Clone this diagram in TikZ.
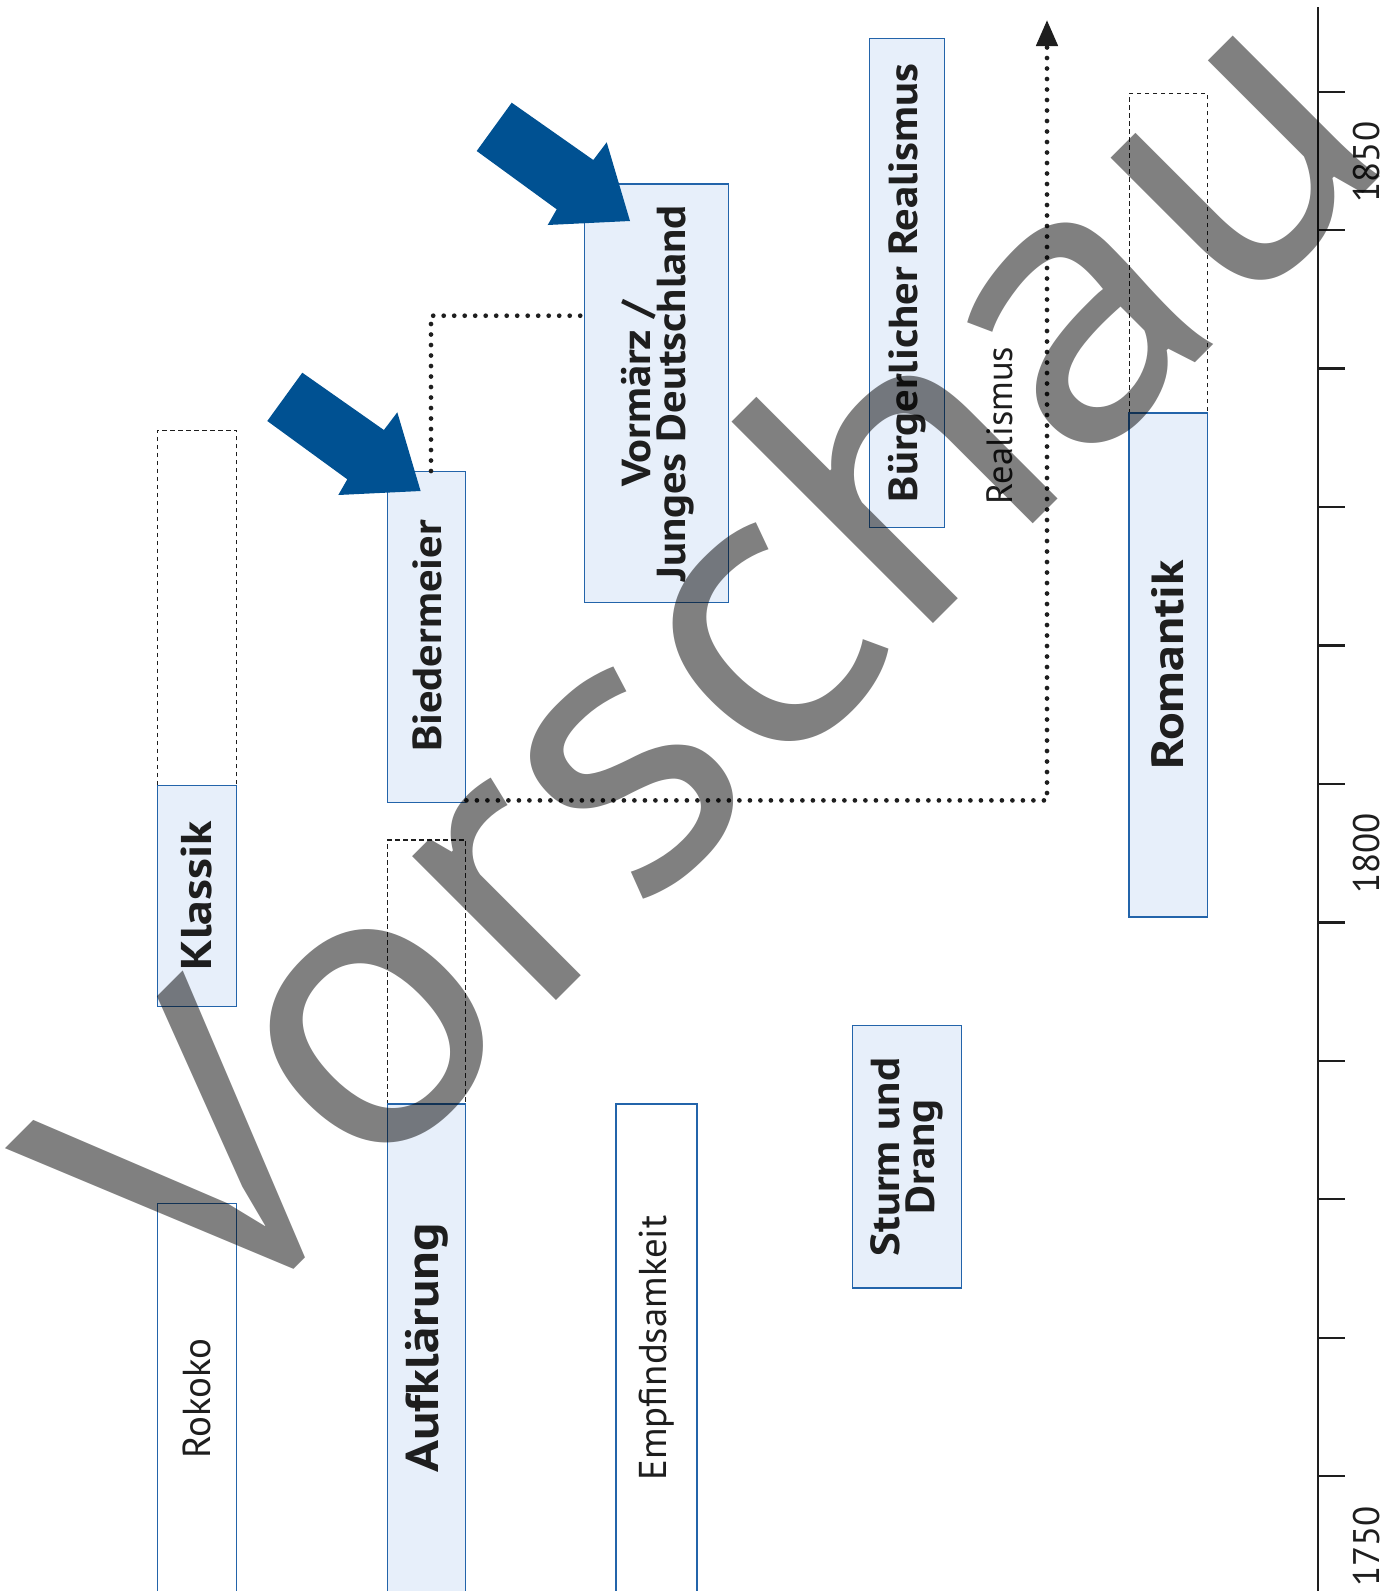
\documentclass[tikz,border=0pt]{standalone}
\usepackage{fontspec}
\setmainfont{PT Sans}
\newfontfamily\lblA[FakeStretch=1.1]{PT Sans}
\newfontfamily\lblB[FakeStretch=1.15]{PT Sans}
\newfontfamily\wmfont[FakeStretch=1.08]{PT Sans}
\usetikzlibrary{arrows.meta}
\definecolor{boxblue}{RGB}{35,100,170}
\definecolor{boxfill}{RGB}{231,239,250}
\definecolor{arrowblue}{RGB}{0,81,146}
\definecolor{wmgray}{RGB}{128,128,128}
\definecolor{ink}{RGB}{30,30,30}
\begin{document}
\begin{tikzpicture}[x=1pt,y=-1pt,
  box/.style={draw=boxblue, line width=1.4pt, fill=boxfill, rectangle, inner sep=0pt},
  wbox/.style={draw=boxblue, line width=1.4pt, fill=white, rectangle, inner sep=0pt},
  dbox/.style={draw=ink, line width=1.1pt, dash pattern=on 4.5pt off 3.5pt, rectangle, inner sep=0pt},
  boldlbl/.style={rotate=90, font=\lblA\fontsize{40.5}{35}\selectfont\bfseries, text=ink, align=center, inner sep=0pt},
  biglbl/.style={rotate=90, font=\lblB\fontsize{#1}{36}\selectfont\bfseries, text=ink, inner sep=0pt},
  reglbl/.style={rotate=90, font=\fontsize{#1}{36}\selectfont, text=ink, inner sep=0pt},
  dots/.style={draw=ink, line width=4.7pt, line cap=round, dash pattern=on 0pt off 10.5pt},
  bigarrow/.style={fill=arrowblue},
  axisline/.style={draw=ink, line width=2.6pt},
  tickline/.style={draw=ink, line width=2.3pt},
]
\clip (0,0) rectangle (1398,1591);
\fill[white] (0,0) rectangle (1398,1591);

% dashed extensions
\node[dbox, minimum width=79.1pt, minimum height=355.1pt] (klassikd) at (196.85,607.65) {};
\node[dbox, minimum width=78.1pt, minimum height=263.8pt] (aufkld) at (426.65,971.9) {};
\node[dbox, minimum width=78.2pt, minimum height=319.6pt] (romd) at (1168.2,253.1) {};

% boxes
\node[wbox, minimum width=79.1pt, minimum height=436.8pt] (rokoko) at (196.85,1421.6) {};
\node[box, minimum width=79.1pt, minimum height=221.2pt] (klassik) at (196.85,895.8) {};
\node[box, minimum width=78.1pt, minimum height=536.2pt] (aufkl) at (426.65,1371.9) {};
\node[box, minimum width=78.1pt, minimum height=330.8pt] (bied) at (426.65,637.1) {};
\node[box, minimum width=144pt, minimum height=418.6pt] (vorm) at (656.4,393.3) {};
\node[wbox, minimum width=81.2pt, minimum height=536.2pt] (empf) at (656.4,1371.9) {};
\node[box, minimum width=108.9pt, minimum height=262.3pt] (sturm) at (906.75,1156.85) {};
\node[box, minimum width=75.1pt, minimum height=488.9pt] (burg) at (906.95,283.05) {};
\node[box, minimum width=78.2pt, minimum height=504.2pt] (rom) at (1168.2,665) {};

% labels
\node[reglbl=39] (trok) at (197,1398.5) {Rokoko};
\node[biglbl=43] (tkla) at (197,895.8) {Klassik};
\node[biglbl=46] (tauf) at (427,1348) {Aufklärung};
\node[boldlbl] (tbie) at (427,636) {Biedermeier};
\node[boldlbl, align=center] (tvor) at (658,393.5) {Vormärz /\\Junges Deutschland};
\node[reglbl=38.8] (temp) at (657,1348) {Empfindsamkeit};
\node[boldlbl, align=center] (tstu) at (906.75,1157) {Sturm und\\Drang};
\node[boldlbl] (tbur) at (907,283) {Bürgerlicher Realismus};
\node[reglbl=36.5] (trea) at (999.7,425.5) {Realismus};
\node[biglbl=45] (trom) at (1168.2,665) {Romantik};

% timeline
\coordinate (axtop) at (1318,7);
\coordinate (axbot) at (1318,1600);
\draw[axisline] (axtop) -- (axbot);
\foreach \k in {0,...,10}{
  \coordinate (tk\k) at (1318,{91.7+\k*138.45});
  \draw[tickline] (tk\k) -- ++(27,0);
}
\node[reglbl=37] (y1850) at (1367,162) {1850};
\node[reglbl=37] (y1800) at (1367,853.5) {1800};
\node[reglbl=37] (y1750) at (1367,1546.6) {1750};

% dotted connectors
\coordinate (rtop) at (1047,20);
\coordinate (rcorner) at (1047,800.4);
\draw[dots, -{Triangle[length=26pt,width=21pt]}] (bied.south east |- rcorner) -- (rcorner) -- (rtop);
\coordinate (bcorner) at (431,315.7);
\draw[dots] (bied.north -| bcorner) -- (bcorner) -- (bcorner -| vorm.west);

% blue arrows
\fill[bigarrow] (511.7,102.7) -- (593.3,160) -- (606.7,142.3) -- (630,221) -- (547.7,225) -- (556.7,209.3) -- (476.7,151) -- cycle;
\fill[bigarrow, shift={(-209.4,270)}] (511.7,102.7) -- (593.3,160) -- (606.7,142.3) -- (630,221) -- (547.7,225) -- (556.7,209.3) -- (476.7,151) -- cycle;

% watermark
\begin{scope}[blend mode=multiply]
\node[rotate=45, anchor=base, inner sep=0pt, text=wmgray, font=\wmfont\fontsize{407}{407}\selectfont] (wm) at (804,753) {Vorschau};
\end{scope}
\end{tikzpicture}
\end{document}
